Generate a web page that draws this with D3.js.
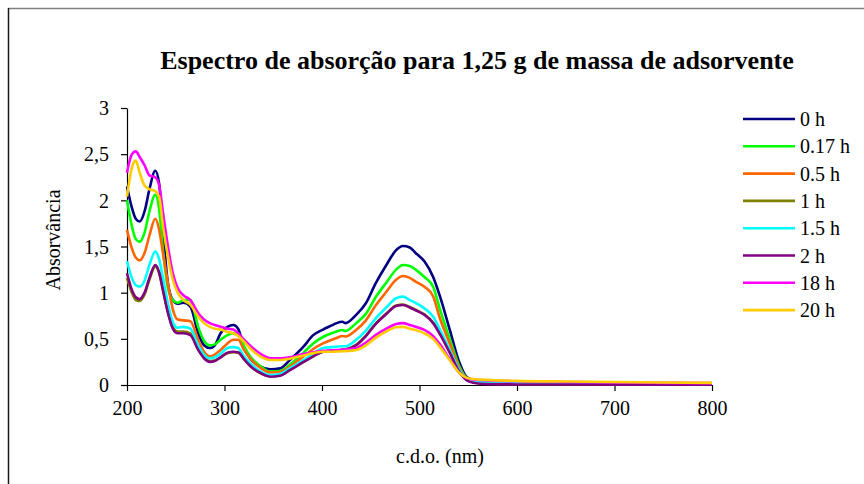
<!DOCTYPE html>
<html>
<head>
<meta charset="utf-8">
<script src="https://cdn.jsdelivr.net/npm/d3@7"></script>
<style>
  body { margin: 0; background: #fff; }
  svg { display: block; font-family: "Liberation Serif", "Times New Roman", "DejaVu Serif", serif; }
  text { font-family: "Liberation Serif", "Times New Roman", "DejaVu Serif", serif; fill: #000; }
</style>
</head>
<body>
<svg id="chart" width="864" height="484"></svg>
<script>
// ---- Data ----
const wavelengths = [200,205,209,213,218,223,229,233,237,242,247,252,258,265,273,279,285,290,296,303,309,314,320,327,335,347,357,367,381,391,401,410,415,421,424,435,445,455,466,476,483,490,496,505,514,521,531,541,548,555,570,600,650,700,750,800];

const seriesNames = ["0 h","0.17 h","0.5 h","1 h","1.5 h","2 h","18 h","20 h"];

const s0h   = [2.15,1.92,1.80,1.77,1.88,2.12,2.32,2.18,1.65,1.10,0.92,0.88,0.89,0.85,0.56,0.43,0.40,0.43,0.56,0.63,0.65,0.61,0.40,0.28,0.21,0.17,0.18,0.27,0.415,0.54,0.60,0.645,0.67,0.685,0.67,0.76,0.885,1.10,1.30,1.46,1.505,1.49,1.43,1.34,1.17,0.96,0.60,0.24,0.09,0.055,0.04,0.03,0.025,0.02,0.015,0.012];
const s017h = [2.00,1.72,1.58,1.55,1.65,1.88,2.06,1.90,1.45,1.05,0.92,0.89,0.92,0.92,0.63,0.48,0.43,0.44,0.49,0.54,0.56,0.55,0.42,0.30,0.22,0.145,0.15,0.22,0.35,0.45,0.52,0.56,0.58,0.595,0.585,0.67,0.77,0.95,1.11,1.25,1.30,1.29,1.25,1.17,1.065,0.82,0.50,0.20,0.08,0.05,0.035,0.028,0.022,0.018,0.014,0.01];
const s05h  = [1.68,1.48,1.38,1.35,1.43,1.62,1.80,1.68,1.42,1.10,0.82,0.71,0.70,0.69,0.49,0.36,0.31,0.33,0.38,0.45,0.49,0.49,0.38,0.28,0.20,0.135,0.14,0.20,0.31,0.39,0.45,0.49,0.51,0.53,0.525,0.596,0.70,0.86,1.01,1.14,1.18,1.16,1.12,1.065,0.96,0.72,0.45,0.18,0.075,0.05,0.035,0.028,0.022,0.018,0.014,0.01];
const s1h   = [1.16,1.00,0.92,0.91,0.98,1.14,1.28,1.21,1.02,0.79,0.63,0.58,0.58,0.56,0.39,0.295,0.26,0.265,0.30,0.345,0.355,0.35,0.28,0.20,0.14,0.095,0.105,0.165,0.25,0.31,0.36,0.37,0.375,0.38,0.385,0.435,0.535,0.665,0.775,0.86,0.87,0.845,0.815,0.765,0.675,0.555,0.355,0.145,0.06,0.03,0.015,0.01,0.008,0.007,0.006,0.005];
const s15h  = [1.34,1.16,1.08,1.065,1.13,1.30,1.445,1.36,1.15,0.88,0.68,0.62,0.63,0.61,0.43,0.33,0.29,0.30,0.34,0.40,0.41,0.40,0.31,0.23,0.16,0.108,0.12,0.18,0.27,0.34,0.40,0.41,0.415,0.42,0.42,0.49,0.59,0.72,0.84,0.94,0.957,0.92,0.89,0.83,0.74,0.60,0.38,0.16,0.07,0.045,0.032,0.025,0.02,0.016,0.012,0.009];
const s2h   = [1.21,1.03,0.95,0.93,1.00,1.16,1.30,1.22,1.02,0.78,0.61,0.56,0.56,0.54,0.38,0.29,0.25,0.26,0.30,0.35,0.36,0.355,0.28,0.20,0.14,0.09,0.10,0.16,0.25,0.31,0.36,0.37,0.375,0.38,0.385,0.43,0.53,0.66,0.77,0.855,0.866,0.84,0.81,0.76,0.67,0.55,0.35,0.14,0.055,0.025,0.01,0.006,0.005,0.004,0.003,0.003];
const s18h  = [2.30,2.50,2.53,2.47,2.38,2.27,2.25,2.16,1.86,1.50,1.21,1.05,0.97,0.92,0.78,0.71,0.67,0.65,0.63,0.61,0.60,0.56,0.49,0.42,0.35,0.29,0.29,0.30,0.335,0.355,0.37,0.375,0.378,0.38,0.385,0.40,0.46,0.54,0.61,0.66,0.67,0.65,0.63,0.596,0.53,0.44,0.28,0.13,0.075,0.06,0.05,0.04,0.033,0.028,0.023,0.02];
const s20h  = [2.04,2.35,2.43,2.30,2.16,2.12,2.10,2.04,1.71,1.39,1.14,1.00,0.92,0.87,0.74,0.67,0.63,0.61,0.60,0.575,0.56,0.53,0.47,0.39,0.32,0.27,0.27,0.285,0.32,0.345,0.36,0.36,0.362,0.365,0.367,0.38,0.43,0.51,0.58,0.625,0.63,0.61,0.595,0.56,0.50,0.41,0.27,0.13,0.08,0.065,0.055,0.045,0.038,0.032,0.027,0.023];

const seriesValues = [s0h, s017h, s05h, s1h, s15h, s2h, s18h, s20h];
const seriesColors = ["#000080","#00ff00","#ff6600","#808000","#00ffff","#800080","#ff00ff","#ffcc00"];

const xTicks = [200,300,400,500,600,700,800];
const yTicks = [0,0.5,1,1.5,2,2.5,3];
const yTickLabels = ["0","0,5","1","1,5","2","2,5","3"];

const titleText = "Espectro de absorção para 1,25 g de massa de adsorvente";
const xLabel = "c.d.o. (nm)";
const yLabel = "Absorvância";

// ---- Layout ----
const FONT = "'Liberation Serif', 'Times New Roman', 'DejaVu Serif', serif";
const svg = d3.select("#chart");
const x = d3.scaleLinear().domain([200, 800]).range([127, 712]);
const y = d3.scaleLinear().domain([0, 3]).range([385, 108]);

// outer frame (top & left only visible)
svg.append("line").attr("x1", 8).attr("x2", 864).attr("y1", 8.5).attr("y2", 8.5)
  .attr("stroke", "#808080").attr("stroke-width", 1.5);
svg.append("line").attr("x1", 8.5).attr("x2", 8.5).attr("y1", 8).attr("y2", 484)
  .attr("stroke", "#1a1a1a").attr("stroke-width", 1.5);

// title
svg.append("text").attr("x", 477).attr("y", 69).attr("text-anchor", "middle")
  .attr("font-family", FONT).style("font-size", "26px").style("font-weight", "bold").text(titleText);

// axes
const xAxis = d3.axisBottom(x).tickValues(xTicks).tickSize(6).tickSizeOuter(0).tickPadding(6)
  .tickFormat(d => String(d));
const gx = svg.append("g").attr("transform", "translate(0,385)").call(xAxis);
const yAxis = d3.axisLeft(y).tickValues(yTicks).tickSize(6).tickSizeOuter(0).tickPadding(12)
  .tickFormat((d, i) => yTickLabels[i]);
const gy = svg.append("g").attr("transform", "translate(127,0)").call(yAxis);
[gx, gy].forEach(g => {
  g.attr("font-family", FONT).attr("font-size", 20);
  g.selectAll("path.domain").attr("stroke", "#000").attr("stroke-width", 1.2);
  g.selectAll(".tick line").attr("stroke", "#000").attr("stroke-width", 1.2);
  g.selectAll(".tick text").attr("font-family", FONT).style("font-family", FONT)
    .style("font-size", "20px").attr("fill", "#000");
});
gx.selectAll(".tick text").attr("y", 16).attr("dy", "0.71em");
gy.selectAll(".tick text").attr("dy", "0.34em");

// axis labels
svg.append("text").attr("x", 440).attr("y", 463).attr("text-anchor", "middle")
  .attr("font-family", FONT).style("font-size", "20px").text(xLabel);
svg.append("text").attr("transform", "translate(60,240) rotate(-90)").attr("text-anchor", "middle")
  .attr("font-family", FONT).style("font-size", "20px").text(yLabel);

// lines
const line = d3.line().x(d => x(d[0])).y(d => y(d[1])).curve(d3.curveMonotoneX);
const gLines = svg.append("g");
seriesValues.forEach((vals, i) => {
  const pts = wavelengths.map((w, j) => [w, vals[j]]);
  gLines.append("path").datum(pts).attr("d", line)
    .attr("fill", "none").attr("stroke", seriesColors[i]).attr("stroke-width", 2.6)
    .attr("stroke-linejoin", "round");
});

// legend
const legend = svg.append("g");
seriesNames.forEach((name, i) => {
  const yy = 119 + i * 27.3;
  legend.append("line").attr("x1", 743).attr("x2", 795).attr("y1", yy).attr("y2", yy)
    .attr("stroke", seriesColors[i]).attr("stroke-width", 2.6);
  legend.append("text").attr("x", 800).attr("y", yy + 7).attr("font-family", FONT)
    .style("font-size", "20px").text(name);
});
</script>
</body>
</html>
